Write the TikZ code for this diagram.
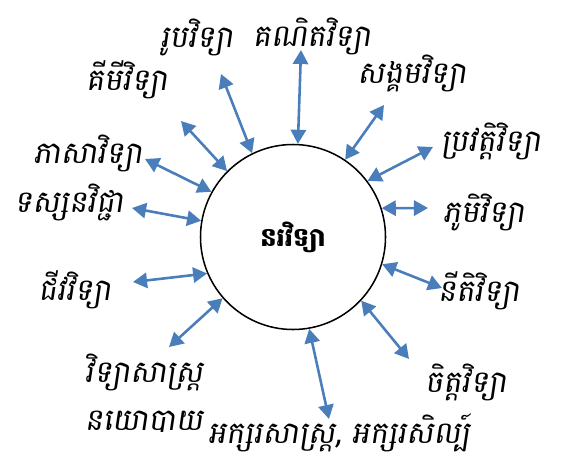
\documentclass[tikz,border=0pt]{standalone}
\usepackage{fontspec}
\newfontfamily\khmer[Script=Khmer,FakeSlant=0.15]{Battambang}
\newfontfamily\khmerbold[Script=Khmer]{Battambang}
\usetikzlibrary{arrows.meta}
\definecolor{LinkBlue}{RGB}{74,126,187}

\begin{document}
\begin{tikzpicture}[
    x=0.03cm, y=-0.03cm,
    hub/.style={
        circle, draw=black, line width=1.3pt,
        minimum size=5.55cm, inner sep=0pt,
        font=\khmerbold\fontsize{22}{26}\selectfont\bfseries
    },
    field/.style={font=\khmer\fontsize{26}{30}\selectfont, inner sep=1pt},
    link/.style={{Triangle[length=12pt,width=13pt]}-{Triangle[length=12pt,width=13pt]}, line width=2.2pt, LinkBlue}
]
\useasboundingbox (0,0) rectangle (566,473);

\node[hub] (core) at (293,237) {នរវិទ្យា};

\node[field] (math) at (312,36) {គណិតវិទ្យា};
\node[field] (phys) at (197,37) {រូបវិទ្យា};
\node[field] (chem) at (127,80) {គីមីវិទ្យា};
\node[field] (soc) at (412,73) {សង្គមវិទ្យា};
\node[field] (hist) at (491,141) {ប្រវត្តិវិទ្យា};
\node[field] (ling) at (88,153) {ភាសាវិទ្យា};
\node[field] (philo) at (69,202) {ទស្សនវិជ្ជា};
\node[field] (geo) at (484,212) {ភូមិវិទ្យា};
\node[field] (law) at (479,291) {នីតិវិទ្យា};
\node[field] (bio) at (75,290) {ជីវវិទ្យា};
\node[field, align=left, font=\khmer\fontsize{26}{41}\selectfont] (polsci) at (144,393) {វិទ្យាសាស្ត្រ\\នយោបាយ};
\node[field] (lit) at (339,433) {អក្សរសាស្ត្រ, អក្សរសិល្ប៍};
\node[field] (psych) at (466,382) {ចិត្តវិទ្យា};

% free ends of the arrows, next to each label
\coordinate (math-end) at (301,50);
\coordinate (phys-end) at (221,74);
\coordinate (chem-end) at (181,121);
\coordinate (soc-end) at (384,105);
\coordinate (hist-end) at (433,147);
\coordinate (ling-end) at (145,159);
\coordinate (philo-end) at (132,208);
\coordinate (geo-end) at (428,208);
\coordinate (law-end) at (442,288);
\coordinate (bio-end) at (133,282);
\coordinate (polsci-end) at (169,347);
\coordinate (lit-end) at (329,419);
\coordinate (psych-end) at (409,359);

\draw[link] (core.87) -- (math-end);
\draw[link] (core.116) -- (phys-end);
\draw[link] (core.135) -- (chem-end);
\draw[link] (core.56) -- (soc-end);
\draw[link] (core.37) -- (hist-end);
\draw[link] (core.151) -- (ling-end);
\draw[link] (core.170) -- (philo-end);
\draw[link] (core.18) -- (geo-end);
\draw[link] (core.343) -- (law-end);
\draw[link] (core.203) -- (bio-end);
\draw[link] (core.221) -- (polsci-end);
\draw[link] (core.280) -- (lit-end);
\draw[link] (core.317) -- (psych-end);

\end{tikzpicture}
\end{document}
